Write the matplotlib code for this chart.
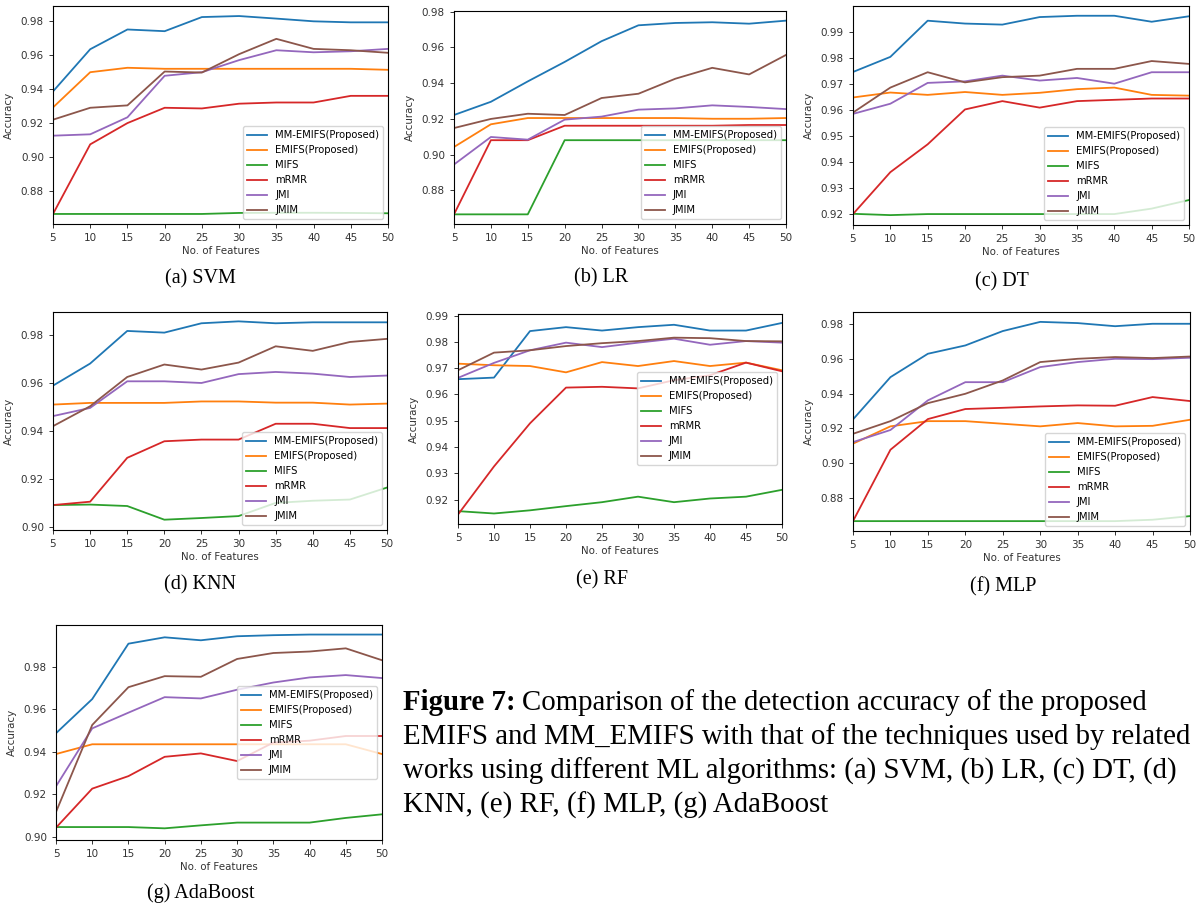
import matplotlib
matplotlib.use("Agg")
import matplotlib.pyplot as plt

features = [5, 10, 15, 20, 25, 30, 35, 40, 45, 50]
methods = ["MM-EMIFS(Proposed)", "EMIFS(Proposed)", "MIFS", "mRMR", "JMI", "JMIM"]

svm_mm = [0.9386, 0.9634, 0.9750, 0.9740, 0.9823, 0.9829, 0.9814, 0.9798, 0.9792, 0.9792]
svm_emifs = [0.9292, 0.9499, 0.9525, 0.9519, 0.9519, 0.9519, 0.9519, 0.9519, 0.9519, 0.9513]
svm_mifs = [0.8666, 0.8666, 0.8666, 0.8666, 0.8666, 0.8672, 0.8673, 0.8673, 0.8672, 0.8670]
svm_mrmr = [0.8666, 0.9075, 0.9200, 0.9290, 0.9286, 0.9314, 0.9321, 0.9321, 0.9360, 0.9360]
svm_jmi = [0.9126, 0.9134, 0.9234, 0.9478, 0.9499, 0.9570, 0.9628, 0.9616, 0.9622, 0.9636]
svm_jmim = [0.9220, 0.9290, 0.9304, 0.9503, 0.9497, 0.9605, 0.9695, 0.9636, 0.9628, 0.9613]

lr_mm = [0.9222, 0.9296, 0.9410, 0.9519, 0.9635, 0.9724, 0.9737, 0.9741, 0.9733, 0.9750]
lr_emifs = [0.9043, 0.9170, 0.9205, 0.9205, 0.9205, 0.9205, 0.9205, 0.9201, 0.9201, 0.9205]
lr_mifs = [0.8666, 0.8666, 0.8666, 0.9081, 0.9081, 0.9081, 0.9081, 0.9081, 0.9081, 0.9081]
lr_mrmr = [0.8666, 0.9081, 0.9081, 0.9162, 0.9162, 0.9162, 0.9162, 0.9162, 0.9166, 0.9166]
lr_jmi = [0.8945, 0.9099, 0.9084, 0.9196, 0.9213, 0.9252, 0.9259, 0.9276, 0.9267, 0.9255]
lr_jmim = [0.9149, 0.9200, 0.9229, 0.9222, 0.9317, 0.9341, 0.9425, 0.9486, 0.9449, 0.9558]

dt_mm = [0.9746, 0.9804, 0.9943, 0.9932, 0.9928, 0.9957, 0.9962, 0.9962, 0.9939, 0.9960]
dt_emifs = [0.9648, 0.9667, 0.9658, 0.9669, 0.9658, 0.9666, 0.9680, 0.9686, 0.9658, 0.9655]
dt_mifs = [0.9201, 0.9196, 0.9200, 0.9200, 0.9200, 0.9200, 0.9200, 0.9200, 0.9221, 0.9254]
dt_mrmr = [0.9200, 0.9361, 0.9468, 0.9602, 0.9634, 0.9609, 0.9634, 0.9639, 0.9644, 0.9644]
dt_jmi = [0.9585, 0.9624, 0.9704, 0.9710, 0.9732, 0.9713, 0.9723, 0.9701, 0.9745, 0.9745]
dt_jmim = [0.9590, 0.9686, 0.9745, 0.9706, 0.9726, 0.9732, 0.9758, 0.9758, 0.9788, 0.9777]

knn_mm = [0.9590, 0.9682, 0.9818, 0.9811, 0.9850, 0.9858, 0.9850, 0.9854, 0.9854, 0.9854]
knn_emifs = [0.9511, 0.9518, 0.9518, 0.9518, 0.9524, 0.9524, 0.9519, 0.9519, 0.9511, 0.9515]
knn_mifs = [0.9092, 0.9094, 0.9088, 0.9031, 0.9038, 0.9046, 0.9101, 0.9110, 0.9115, 0.9165]
knn_mrmr = [0.9092, 0.9106, 0.9289, 0.9358, 0.9365, 0.9365, 0.9431, 0.9431, 0.9413, 0.9413]
knn_jmi = [0.9463, 0.9497, 0.9608, 0.9608, 0.9601, 0.9638, 0.9647, 0.9640, 0.9626, 0.9632]
knn_jmim = [0.9421, 0.9504, 0.9626, 0.9678, 0.9657, 0.9686, 0.9754, 0.9735, 0.9772, 0.9785]

rf_mm = [0.9658, 0.9664, 0.9841, 0.9856, 0.9843, 0.9856, 0.9865, 0.9843, 0.9843, 0.9872]
rf_emifs = [0.9717, 0.9711, 0.9708, 0.9684, 0.9723, 0.9708, 0.9727, 0.9708, 0.9721, 0.9692]
rf_mifs = [0.9156, 0.9147, 0.9159, 0.9175, 0.9190, 0.9211, 0.9190, 0.9204, 0.9211, 0.9237]
rf_mrmr = [0.9143, 0.9326, 0.9490, 0.9626, 0.9629, 0.9623, 0.9654, 0.9673, 0.9721, 0.9688]
rf_jmi = [0.9663, 0.9720, 0.9768, 0.9797, 0.9780, 0.9797, 0.9812, 0.9789, 0.9803, 0.9797]
rf_jmim = [0.9692, 0.9759, 0.9768, 0.9784, 0.9795, 0.9803, 0.9816, 0.9814, 0.9803, 0.9802]

mlp_mm = [0.9252, 0.9496, 0.9631, 0.9679, 0.9762, 0.9815, 0.9808, 0.9790, 0.9804, 0.9804]
mlp_emifs = [0.9112, 0.9212, 0.9242, 0.9242, 0.9227, 0.9212, 0.9231, 0.9212, 0.9215, 0.9250]
mlp_mifs = [0.8665, 0.8665, 0.8665, 0.8665, 0.8665, 0.8665, 0.8665, 0.8665, 0.8673, 0.8694]
mlp_mrmr = [0.8665, 0.9077, 0.9254, 0.9312, 0.9319, 0.9327, 0.9333, 0.9331, 0.9381, 0.9358]
mlp_jmi = [0.9121, 0.9191, 0.9362, 0.9467, 0.9467, 0.9554, 0.9583, 0.9602, 0.9600, 0.9608]
mlp_jmim = [0.9169, 0.9242, 0.9346, 0.9400, 0.9477, 0.9583, 0.9602, 0.9612, 0.9606, 0.9615]

ada_mm = [0.9488, 0.9649, 0.9910, 0.9940, 0.9926, 0.9945, 0.9950, 0.9953, 0.9953, 0.9953]
ada_emifs = [0.9390, 0.9436, 0.9436, 0.9436, 0.9436, 0.9436, 0.9436, 0.9436, 0.9436, 0.9390]
ada_mifs = [0.9046, 0.9046, 0.9046, 0.9040, 0.9054, 0.9067, 0.9067, 0.9067, 0.9089, 0.9106]
ada_mrmr = [0.9043, 0.9227, 0.9286, 0.9377, 0.9393, 0.9357, 0.9444, 0.9453, 0.9475, 0.9475]
ada_jmi = [0.9238, 0.9511, 0.9585, 0.9658, 0.9652, 0.9693, 0.9727, 0.9751, 0.9762, 0.9748]
ada_jmim = [0.9117, 0.9527, 0.9705, 0.9757, 0.9754, 0.9838, 0.9866, 0.9873, 0.9888, 0.9832]

captions = ["(a) SVM", "(b) LR", "(c) DT", "(d) KNN", "(e) RF", "(f) MLP", "(g) AdaBoost"]

panels = [
    [svm_mm, svm_emifs, svm_mifs, svm_mrmr, svm_jmi, svm_jmim],
    [lr_mm, lr_emifs, lr_mifs, lr_mrmr, lr_jmi, lr_jmim],
    [dt_mm, dt_emifs, dt_mifs, dt_mrmr, dt_jmi, dt_jmim],
    [knn_mm, knn_emifs, knn_mifs, knn_mrmr, knn_jmi, knn_jmim],
    [rf_mm, rf_emifs, rf_mifs, rf_mrmr, rf_jmi, rf_jmim],
    [mlp_mm, mlp_emifs, mlp_mifs, mlp_mrmr, mlp_jmi, mlp_jmim],
    [ada_mm, ada_emifs, ada_mifs, ada_mrmr, ada_jmi, ada_jmim],
]

W, H = 1200, 910
fig = plt.figure(figsize=(W / 100, H / 100), dpi=100)

# pixel boxes: left, top, right, bottom
boxes = [
    (53, 6, 388, 224),
    (454, 11, 786, 224),
    (853, 6, 1189, 225),
    (53, 312, 387, 530),
    (458, 314, 782, 524),
    (853, 312, 1190, 531),
    (56, 625, 382, 840),
]
ylims = [
    (0.8607, 0.9888),
    (0.8612, 0.9804),
    (0.9158, 0.99995),
    (0.8988, 0.9897),
    (0.9107, 0.9906),
    (0.8608, 0.9872),
    (0.8985, 0.9998),
]
legend_locs = ["lower right", "lower right", "lower right", "lower right",
               "center right", "lower right", "center right"]
cap_pos = [(200, 279), (601, 278), (1002, 282), (200, 585), (602, 580), (1003, 587), (201, 893)]

colors = ["#1f77b4", "#ff7f0e", "#2ca02c", "#d62728", "#9467bd", "#8c564b"]

for i, (box, series) in enumerate(zip(boxes, panels)):
    l, t, r, b = box
    ax = fig.add_axes([l / W, 1 - b / H, (r - l) / W, (b - t) / H])
    for name, vals, c in zip(methods, series, colors):
        ax.plot(features, vals, color=c, linewidth=1.3, label=name)
    ax.set_xlim(5, 50)
    ax.set_ylim(*ylims[i])
    ax.set_xticks(features)
    ax.tick_params(labelsize=7.5, length=3, width=0.7, colors="#333333", labelcolor="#333333")
    for s in ax.spines.values():
        s.set_linewidth(0.8)
    ax.set_xlabel("No. of Features", fontsize=7.4, color="#333333", labelpad=2)
    ax.set_ylabel("Accuracy", fontsize=7.4, color="#333333", labelpad=5)
    ax.legend(loc=legend_locs[i], fontsize=7.2, framealpha=0.8, handlelength=2.0,
              borderpad=0.4, labelspacing=0.5)
    cx, cy = cap_pos[i]
    fig.text(cx / W, 1 - cy / H, captions[i], ha="center", va="center",
             fontsize=14.5, family="Liberation Serif")

cap_lines = [
    "Comparison of the detection accuracy of the proposed",
    "EMIFS and MM_EMIFS with that of the techniques used by related",
    "works using different ML algorithms: (a) SVM, (b) LR, (c) DT, (d)",
    "KNN, (e) RF, (f) MLP, (g) AdaBoost",
]
y0 = 703
fs = 20.8
t1 = fig.text(403 / W, 1 - y0 / H, "Figure 7:", ha="left", va="center",
              fontsize=fs, family="Liberation Serif", weight="bold")
fig.canvas.draw()
bb = t1.get_window_extent()
fig.text((bb.x1 + 6) / W, 1 - y0 / H, cap_lines[0], ha="left", va="center",
         fontsize=fs, family="Liberation Serif")
for k, line in enumerate(cap_lines[1:]):
    fig.text(403 / W, 1 - (y0 + 34 * (k + 1)) / H, line, ha="left", va="center",
             fontsize=fs, family="Liberation Serif")

fig.savefig("out.png", dpi=100)
